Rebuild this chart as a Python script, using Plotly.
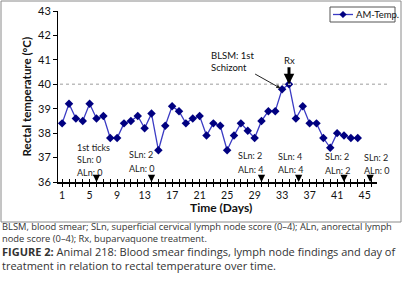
import plotly.graph_objects as go

# ---------------- data ----------------
days = list(range(1, 45))
temps = [38.4, 39.2, 38.6, 38.5, 39.2, 38.6, 38.7, 37.8, 37.8, 38.4,
         38.5, 38.7, 38.2, 38.8, 37.3, 38.3, 39.1, 38.9, 38.4, 38.6,
         38.7, 37.9, 38.4, 38.3, 37.3, 37.9, 38.4, 38.1, 37.8, 38.5,
         38.9, 38.9, 39.8, 40.0, 38.6, 39.1, 38.4, 38.4, 37.8, 37.4,
         38.0, 37.9, 37.8, 37.8]
x_tick_vals = list(range(1, 47))
x_tick_text = [str(d) if (d - 1) % 4 == 0 else "" for d in x_tick_vals]
y_tick_vals = [36, 37, 38, 39, 40, 41, 42, 43]

exam_days = [6, 14, 30, 35.4, 42, 45.8]
sln_labels = ["SLn: 0", "SLn: 2", "SLn: 2", "SLn: 4", "SLn: 2", "SLn: 2"]
aln_labels = ["ALn: 0", "ALn: 0", "ALn: 4", "ALn: 4", "ALn: 2", "ALn: 0"]
fever_threshold = 40
schizont_day = 33
rx_day = 34
series_name = "AM-Temp."

# ---------------- layout helpers ----------------
L, R, T, B = 58, 377, 11, 182
W, H = 403, 295
def px_x(p):
    return (p - L) / (R - L)
def px_y(p):
    return (B - p) / (B - T)

FONT = "Lato"
CAP_FONT = "Open Sans"
LINE_COL = "#3b3bc4"
MARK_COL = "#000080"

fig = go.Figure()
fig.add_trace(go.Scatter(
    x=days, y=temps, mode="lines+markers", name=series_name,
    line=dict(color=LINE_COL, width=1.3),
    marker=dict(symbol="diamond", size=6.5, color=MARK_COL),
    cliponaxis=False, showlegend=False,
))
# invisible trace on the overlay axis (for crossing ticks)
fig.add_trace(go.Scatter(x=[1], y=[36], xaxis="x2", mode="markers",
                         marker=dict(opacity=0), showlegend=False, hoverinfo="skip"))

annotations = []
txt_left = [76, 128, 237, 277, 324, 363]
sln_y = [159, 154, 155, 156, 156, 157]
aln_y = [172, 168, 169, 169, 170, 170]
annotations.append(dict(text="1st ticks", x=px_x(76), y=px_y(147), xref="paper", yref="paper",
                        xanchor="left", yanchor="middle", showarrow=False, borderpad=0,
                        font=dict(family=FONT, size=9, color="#222")))
for i in range(len(exam_days)):
    annotations.append(dict(text=sln_labels[i], x=px_x(txt_left[i]), y=px_y(sln_y[i]),
                            xref="paper", yref="paper", xanchor="left", yanchor="middle",
                            showarrow=False, borderpad=0,
                            font=dict(family=FONT, size=9, color="#222")))
    annotations.append(dict(text=aln_labels[i], x=px_x(txt_left[i]), y=px_y(aln_y[i]),
                            xref="paper", yref="paper", xanchor="left", yanchor="middle",
                            showarrow=False, borderpad=0,
                            font=dict(family=FONT, size=9, color="#222")))
    annotations.append(dict(text="", x=exam_days[i], y=36, xref="x", yref="y",
                            showarrow=True, ax=0, ay=-7, arrowhead=2, arrowsize=0.9,
                            arrowwidth=1.6, arrowcolor="black"))

# Rx arrow
annotations.append(dict(text="Rx", x=rx_day, y=temps[days.index(rx_day)], xref="x", yref="y",
                        showarrow=True, ax=0, ay=-24, arrowhead=2, arrowsize=0.7,
                        arrowwidth=3, arrowcolor="black", standoff=0,
                        font=dict(family=FONT, size=9.5, color="#111")))
# BLSM annotation
annotations.append(dict(text="BLSM: 1st<br>Schizont", align="left",
                        x=schizont_day, y=temps[days.index(schizont_day)], xref="x", yref="y",
                        showarrow=True, ax=-50, ay=-28, arrowhead=2, arrowsize=0.8,
                        arrowwidth=1, arrowcolor="#222", standoff=2,
                        font=dict(family=FONT, size=9.5, color="#111")))
# axis titles
annotations.append(dict(text="<b>Rectal temperature (°C)</b>", textangle=-90,
                        x=px_x(17), y=px_y(97), xref="paper", yref="paper",
                        showarrow=False, font=dict(family=FONT, size=11.5, color="#111")))
annotations.append(dict(text="<b>Time (Days)</b>", borderpad=0,
                        x=px_x(221), y=px_y(216), xref="paper", yref="paper",
                        showarrow=False, font=dict(family=FONT, size=12, color="#111")))
# legend text
annotations.append(dict(text=series_name, x=px_x(355), y=px_y(14.5), xref="paper", yref="paper",
                        xanchor="left", yanchor="middle", showarrow=False, borderpad=0,
                        font=dict(family=FONT, size=9.5, color="#111")))
# captions (one text block per paragraph)
cap_blocks = [
    ("BLSM, blood smear; SLn, superficial cervical lymph node score (0–4); ALn, anorectal lymph"
     "<br>node score (0–4); Rx, buparvaquone treatment.", 232.2, 9.35),
    ("<b>FIGURE 2:</b> Animal 218: Blood smear findings, lymph node findings and day of"
     "<br>treatment in relation to rectal temperature over time.", 258.2, 11.0),
]
for txt, yy, sz in cap_blocks:
    annotations.append(dict(text=txt, align="left", x=px_x(1), y=px_y(yy),
                            xref="paper", yref="paper", xanchor="left", yanchor="middle",
                            showarrow=False, borderpad=0,
                            font=dict(family=CAP_FONT, size=sz, color="#333")))

# diamond path for legend marker
cx, cy, r = 343, 14.5, 3.3
diamond = (f"M {px_x(cx)},{px_y(cy - r)} L {px_x(cx + r)},{px_y(cy)} "
           f"L {px_x(cx)},{px_y(cy + r)} L {px_x(cx - r)},{px_y(cy)} Z")

shapes = [
    # fever threshold dotted line
    dict(type="line", xref="paper", yref="y", x0=px_x(60), x1=px_x(390),
         y0=fever_threshold, y1=fever_threshold,
         line=dict(color="#bdbdbd", width=1.5, dash="dot")),
    # chart frame
    dict(type="rect", xref="paper", yref="paper", x0=px_x(1), x1=px_x(401),
         y0=px_y(222), y1=px_y(1), line=dict(color="#8a8a8a", width=1)),
    # legend box
    dict(type="rect", xref="paper", yref="paper", x0=px_x(330), x1=px_x(395),
         y0=px_y(22), y1=px_y(7), line=dict(color="#555", width=1), fillcolor="white"),
    dict(type="line", xref="paper", yref="paper", x0=px_x(333), x1=px_x(353),
         y0=px_y(cy), y1=px_y(cy), line=dict(color=LINE_COL, width=1.3)),
    dict(type="path", xref="paper", yref="paper", path=diamond,
         fillcolor=MARK_COL, line=dict(color=MARK_COL, width=0.5)),
]

fig.update_layout(
    width=W, height=H,
    margin=dict(l=L, r=W - R, t=T, b=H - B, autoexpand=False),
    paper_bgcolor="white", plot_bgcolor="white",
    font=dict(family=FONT, size=11, color="#222"),
    showlegend=False,
    xaxis=dict(range=[0.4, 46.8], tickmode="array", tickvals=x_tick_vals, ticktext=x_tick_text,
               ticks="outside", ticklen=3, tickwidth=1, tickcolor="black",
               showline=True, linecolor="black", linewidth=1.5, showgrid=False, zeroline=False,
               tickfont=dict(family=FONT, size=10.5, color="#111")),
    xaxis2=dict(range=[0.4, 46.8], overlaying="x", anchor="y", side="bottom",
                tickmode="array", tickvals=x_tick_vals, ticks="inside", ticklen=3, tickwidth=1,
                tickcolor="black", showticklabels=False, showline=False, showgrid=False,
                zeroline=False),
    yaxis=dict(range=[36, 43], tickmode="array", tickvals=y_tick_vals,
               ticks="outside", ticklen=4, tickwidth=1, tickcolor="black",
               showline=True, linecolor="black", linewidth=1, showgrid=False, zeroline=False,
               tickfont=dict(family=FONT, size=11, color="#111")),
    annotations=annotations,
    shapes=shapes,
)

fig.write_html("out.html", config={"displayModeBar": False},
               post_script="document.body.style.margin='0';")
